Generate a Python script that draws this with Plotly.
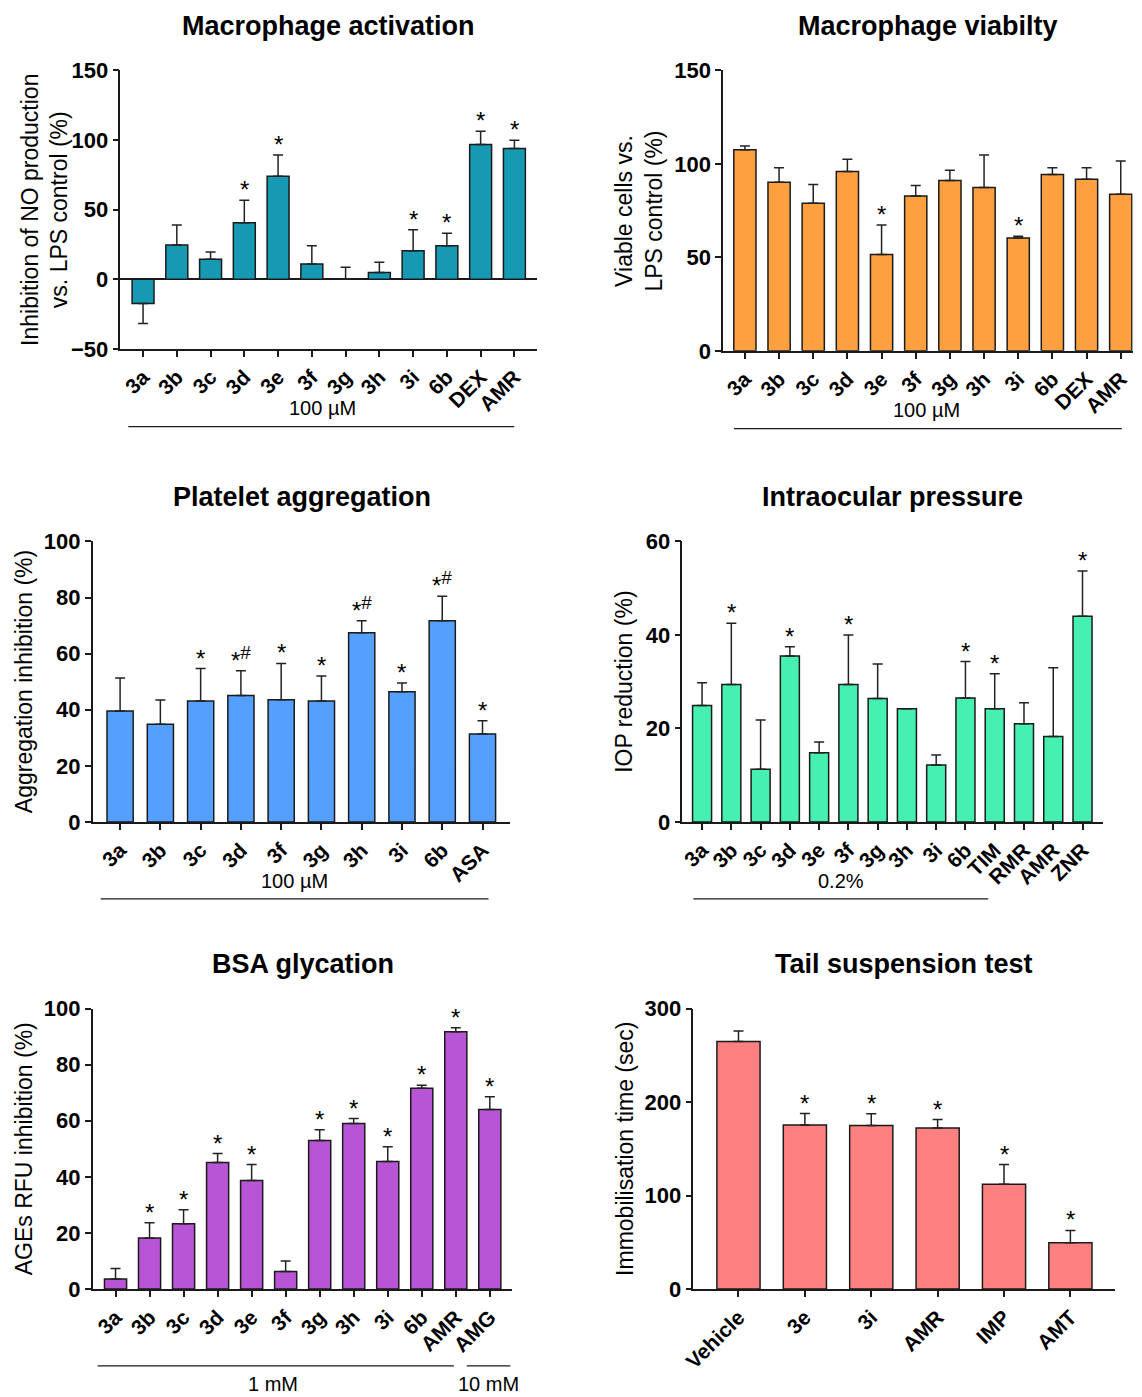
import plotly.graph_objects as go

W, H = 1142, 1397
FONT = "Liberation Sans, Arial, sans-serif"

# ---------------- data ----------------
act_labels = ["3a", "3b", "3c", "3d", "3e", "3f", "3g", "3h", "3i", "6b", "DEX", "AMR"]
act_values = [-17.4, 24.6, 14.3, 40.5, 73.9, 11.0, 0.0, 4.8, 20.5, 24.1, 96.8, 93.9]
act_errtop = [-31.7, 38.9, 19.5, 56.7, 89.2, 24.1, 8.6, 12.2, 35.5, 33.1, 106.3, 99.9]
act_marks = ["", "", "", "*", "*", "", "", "", "*", "*", "*", "*"]

via_labels = ["3a", "3b", "3c", "3d", "3e", "3f", "3g", "3h", "3i", "6b", "DEX", "AMR"]
via_values = [107.6, 90.2, 79.0, 95.9, 51.5, 82.8, 91.1, 87.4, 60.4, 94.3, 91.8, 83.7]
via_errtop = [109.5, 97.9, 89.0, 102.5, 67.3, 88.5, 96.6, 104.8, 61.3, 97.9, 97.9, 101.6]
via_marks = ["", "", "", "", "*", "", "", "", "*", "", "", ""]

pla_labels = ["3a", "3b", "3c", "3d", "3f", "3g", "3h", "3i", "6b", "ASA"]
pla_values = [39.6, 34.8, 43.1, 45.1, 43.6, 43.1, 67.5, 46.4, 71.7, 31.4]
pla_errtop = [51.3, 43.5, 54.7, 53.9, 56.5, 52.0, 71.7, 49.5, 80.5, 36.1]
pla_marks = ["", "", "*", "*#", "*", "*", "*#", "*", "*#", "*"]

iop_labels = ["3a", "3b", "3c", "3d", "3e", "3f", "3g", "3h", "3i", "6b", "TIM", "RMR", "AMR", "ZNR"]
iop_values = [24.9, 29.4, 11.3, 35.5, 14.8, 29.4, 26.4, 24.2, 12.2, 26.5, 24.2, 21.0, 18.3, 44.0]
iop_errtop = [29.8, 42.5, 21.8, 37.5, 17.1, 40.0, 33.8, 24.2, 14.3, 34.3, 31.7, 25.5, 33.0, 53.7]
iop_marks = ["", "*", "", "*", "", "*", "", "", "", "*", "*", "", "", "*"]

bsa_labels = ["3a", "3b", "3c", "3d", "3e", "3f", "3g", "3h", "3i", "6b", "AMR", "AMG"]
bsa_values = [3.6, 18.2, 23.3, 45.1, 38.7, 6.3, 53.0, 59.0, 45.5, 71.6, 91.7, 64.0]
bsa_errtop = [7.3, 23.6, 28.3, 48.3, 44.4, 10.0, 56.8, 60.8, 50.7, 72.7, 93.2, 68.6]
bsa_marks = ["", "*", "*", "*", "*", "", "*", "*", "*", "*", "*", "*"]

tst_labels = ["Vehicle", "3e", "3i", "AMR", "IMP", "AMT"]
tst_values = [264.7, 175.6, 174.9, 172.4, 112.2, 49.5]
tst_errtop = [276.0, 187.7, 187.4, 181.3, 133.2, 62.7]
tst_marks = ["", "*", "*", "*", "*", "*"]

# ---------------- layout helpers ----------------
def fpx_x(t):
    return t - 8.5

def fpx_y(t):
    return (t - 19.5) / 0.984

def px_x(t):
    return fpx_x(t) / W

def px_y(t, lo=None, hi=None):
    f = fpx_y(t)
    if lo is not None:
        f = max(f, lo)
    if hi is not None:
        f = min(f, hi)
    return 1 - f / H

fig = go.Figure()
layout = dict(
    width=W, height=H, margin=dict(l=0, r=0, t=0, b=0),
    paper_bgcolor="white", plot_bgcolor="white", showlegend=False,
    font=dict(family=FONT, color="black"),
)
annotations = []
shapes = []

L = -6  # left column horizontal adjustment
panels = [
    dict(labels=act_labels, values=act_values, err=act_errtop, marks=act_marks,
         color="#1699B2", box=(116 + L, 537 + L, 70, 349), yrange=(-50, 150), ytick=50,
         xr=(-0.67, 11.67), title="Macrophage activation", title_y=24,
         ytitle="Inhibition of NO production<br>vs. LPS control (%)", ytitle_x=33),
    dict(labels=via_labels, values=via_values, err=via_errtop, marks=via_marks,
         color="#FFA040", box=(719, 1133, 70, 351), yrange=(0, 150), ytick=50,
         xr=(-0.64, 11.35), title="Macrophage viabilty", title_y=24,
         ytitle="Viable cells vs.<br>LPS control (%)", ytitle_x=634),
    dict(labels=pla_labels, values=pla_values, err=pla_errtop, marks=pla_marks,
         color="#559FFF", box=(88 + L, 510 + L, 542, 823), yrange=(0, 100), ytick=20,
         xr=(-0.68, 9.69), title="Platelet aggregation", title_y=497,
         ytitle="Aggregation inhibition (%)", ytitle_x=12),
    dict(labels=iop_labels, values=iop_values, err=iop_errtop, marks=iop_marks,
         color="#45F0B0", box=(678, 1103, 542, 823), yrange=(0, 60), ytick=20,
         xr=(-0.67, 13.70), title="Intraocular pressure", title_y=497,
         ytitle="IOP reduction (%)", ytitle_x=619),
    dict(labels=bsa_labels, values=bsa_values, err=bsa_errtop, marks=bsa_marks,
         color="#B855D6", box=(88 + L, 512 + L, 1010, 1291), yrange=(0, 100), ytick=20,
         xr=(-0.67, 11.66), title="BSA glycation", title_y=965,
         ytitle="AGEs RFU inhibition (%)", ytitle_x=12),
    dict(labels=tst_labels, values=tst_values, err=tst_errtop, marks=tst_marks,
         color="#FF8080", box=(689, 1115, 1010, 1291), yrange=(0, 300), ytick=100,
         xr=(-0.68, 5.67), title="Tail suspension test", title_y=965,
         ytitle="Immobilisation time (sec)", ytitle_x=620),
]

for k, p in enumerate(panels, start=1):
    xs = list(range(len(p["labels"])))
    up = []
    down = []
    for v, e in zip(p["values"], p["err"]):
        if v >= 0:
            up.append(max(e - v, 0))
            down.append(0)
        else:
            up.append(0)
            down.append(max(v - e, 0))
    xa = "x" if k == 1 else f"x{k}"
    ya = "y" if k == 1 else f"y{k}"
    fig.add_trace(go.Bar(
        x=xs, y=p["values"], width=0.65, xaxis=xa, yaxis=ya,
        marker=dict(color=p["color"], line=dict(color="#1a1a1a", width=1.5)),
        error_y=dict(type="data", symmetric=False, array=up, arrayminus=down,
                     color="#222222", thickness=1.5, width=5),
    ))
    x0, x1, y0, y1 = p["box"]
    axkey = "xaxis" if k == 1 else f"xaxis{k}"
    aykey = "yaxis" if k == 1 else f"yaxis{k}"
    layout[axkey] = dict(
        domain=[px_x(x0), px_x(x1)], anchor=ya, range=list(p["xr"]),
        tickmode="array", tickvals=xs, ticktext=p["labels"], tickangle=-45,
        tickfont=dict(family=FONT, size=21, weight="bold", color="black"),
        showline=True, linecolor="#1a1a1a", linewidth=1.5,
        ticks="outside", ticklen=6, tickwidth=1.5, tickcolor="#1a1a1a",
        showgrid=False, zeroline=False, fixedrange=True,
    )
    ylo, yhi = p["yrange"]
    layout[aykey] = dict(
        domain=[px_y(y1), px_y(y0)], anchor=xa, range=[ylo, yhi],
        tickmode="linear", tick0=ylo, dtick=p["ytick"],
        tickfont=dict(family=FONT, size=22, weight="bold", color="black"),
        showline=True, linecolor="#1a1a1a", linewidth=1.5,
        ticks="outside", ticklen=6, tickwidth=1.5, tickcolor="#1a1a1a",
        showgrid=False, zeroline=(ylo < 0), zerolinecolor="#1a1a1a", zerolinewidth=1.5,
        fixedrange=True,
    )
    # title
    annotations.append(dict(
        text=f"<b>{p['title']}</b>", x=px_x((x0 + x1) / 2), y=px_y(p["title_y"], lo=6),
        xref="paper", yref="paper", xanchor="center", yanchor="middle",
        showarrow=False, font=dict(family=FONT, size=27, color="black"),
    ))
    # y axis title
    annotations.append(dict(
        text=p["ytitle"], x=px_x(p["ytitle_x"]), y=px_y((y0 + y1) / 2),
        xref="paper", yref="paper", xanchor="center", yanchor="middle",
        textangle=-90, showarrow=False,
        font=dict(family=FONT, size=23, color="black"),
    ))
    # significance marks
    for i, (m, e, v) in enumerate(zip(p["marks"], p["err"], p["values"])):
        if not m:
            continue
        txt = m.replace("#", "<sup><span style='font-size:19px'>#</span></sup>")
        annotations.append(dict(
            text=txt, x=i, y=max(e, v), xref=xa, yref=ya,
            xanchor="center", yanchor="bottom", yshift=-5, showarrow=False,
            font=dict(family=FONT, size=24, color="black"),
        ))

# group labels and lines
group_text = [
    ("100 \u00b5M", 320 + L, 408),
    ("100 \u00b5M", 925, 410),
    ("100 \u00b5M", 292 + L, 882),
    ("0.2%", 838, 882),
    ("1 mM", 270 + L, 1388),
    ("10 mM", 488 + L, 1388),
]
group_lines = [
    (124 + L, 514 + L, 427),
    (730, 1122, 429),
    (96 + L, 488 + L, 900),
    (689, 987, 900),
    (93 + L, 453 + L, 1368),
    (466 + L, 510 + L, 1368),
]
for t, x, y in group_text:
    annotations.append(dict(
        text=t, x=px_x(x), y=px_y(y, hi=1389), xref="paper", yref="paper",
        xanchor="center", yanchor="middle", showarrow=False,
        font=dict(family=FONT, size=20, color="black"),
    ))
for xa0, xa1, y in group_lines:
    shapes.append(dict(type="line", xref="paper", yref="paper",
                       x0=px_x(xa0), x1=px_x(xa1), y0=px_y(y), y1=px_y(y),
                       line=dict(color="#1a1a1a", width=1.2)))

layout["annotations"] = annotations
layout["shapes"] = shapes
fig.update_layout(**layout)
fig.write_html("out.html")
